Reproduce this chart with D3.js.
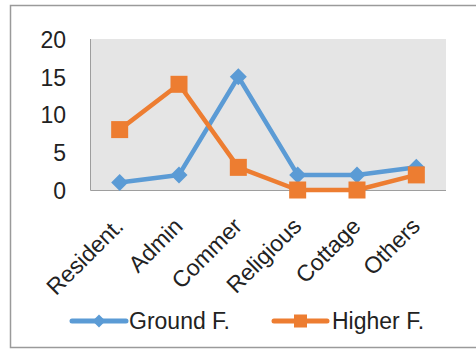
<!DOCTYPE html>
<html>
<head>
<meta charset="utf-8">
<script src="https://cdn.jsdelivr.net/npm/d3@7/dist/d3.min.js"></script>
<style>
  html, body { margin: 0; padding: 0; background: #fff; }
  svg { display: block; }
  text { font-family: "Liberation Sans", Arial, sans-serif; fill: #222; }
</style>
</head>
<body>
<svg id="chart" width="476" height="350"></svg>
<script>
// Floor-use counts per building category
const categories = ["Resident.", "Admin", "Commer", "Religious", "Cottage", "Others"];
const groundFloor = [1, 2, 15, 2, 2, 3];
const higherFloor = [8, 14, 3, 0, 0, 2];
const yTicks = [0, 5, 10, 15, 20];
const seriesNames = ["Ground F.", "Higher F."];

const series = [
  { name: seriesNames[0], values: groundFloor, color: "#5B9BD5", marker: "diamond" },
  { name: seriesNames[1], values: higherFloor, color: "#ED7D31", marker: "square" }
];

const svg = d3.select("#chart");
const plot = { left: 90, right: 446, top: 39, bottom: 190 };
const fontSize = 23;

// outer chart frame
svg.append("rect")
  .attr("x", 10.5).attr("y", 5.5)
  .attr("width", 480).attr("height", 342)
  .attr("fill", "#fff").attr("stroke", "#9a9a9a").attr("stroke-width", 1.5);

const x = d3.scalePoint().domain(categories).range([plot.left, plot.right]).padding(0.5);
const y = d3.scaleLinear().domain([0, 20]).range([plot.bottom, plot.top]);

// plot area background
svg.append("rect")
  .attr("x", plot.left).attr("y", plot.top)
  .attr("width", plot.right - plot.left).attr("height", plot.bottom - plot.top)
  .attr("fill", "#E5E5E5");

// left and bottom axis lines
svg.append("path")
  .attr("d", `M${plot.left + 0.5},${plot.top}V${plot.bottom + 0.5}H${plot.right}`)
  .attr("fill", "none").attr("stroke", "#9E9E9E").attr("stroke-width", 1);

// y-axis labels
const yAxis = d3.axisLeft(y).tickValues(yTicks).tickSize(0).tickPadding(0);
const yg = svg.append("g").attr("transform", `translate(66,0)`).call(yAxis);
yg.select(".domain").remove();
yg.selectAll("text")
  .attr("font-size", fontSize).attr("font-family", "Liberation Sans, Arial, sans-serif")
  .attr("fill", "#222").attr("dy", "0.36em");

// category labels, rotated
const xAxis = d3.axisBottom(x).tickSize(0).tickPadding(0);
const xg = svg.append("g").attr("transform", `translate(0,${plot.bottom})`).call(xAxis);
xg.select(".domain").remove();
xg.selectAll("text")
  .attr("font-size", fontSize).attr("font-family", "Liberation Sans, Arial, sans-serif")
  .attr("fill", "#222")
  .attr("text-anchor", "end")
  .attr("dy", null).attr("y", null)
  .attr("transform", "translate(-1,32) rotate(-45)")
  .attr("dominant-baseline", "central");

const diamond = s => `M0,${-s}L${s},0L0,${s}L${-s},0Z`;

function drawMarker(g, type, cx, cy, color, size) {
  if (type === "diamond") {
    g.append("path").attr("d", diamond(size))
      .attr("transform", `translate(${cx},${cy})`).attr("fill", color);
  } else {
    g.append("rect")
      .attr("x", cx - size).attr("y", cy - size)
      .attr("width", size * 2).attr("height", size * 2)
      .attr("fill", color);
  }
}

const line = d3.line().x((d, i) => x(categories[i])).y(d => y(d));

series.forEach(s => {
  const g = svg.append("g");
  g.append("path").datum(s.values)
    .attr("d", line)
    .attr("fill", "none").attr("stroke", s.color)
    .attr("stroke-width", 4.5).attr("stroke-linejoin", "round");
  s.values.forEach((v, i) => {
    drawMarker(g, s.marker, x(categories[i]), y(v), s.color, 8.5);
  });
});

// legend
const legendY = 321;
const legendItems = [
  { s: series[0], x0: 72, x1: 126, tx: 129 },
  { s: series[1], x0: 274, x1: 327, tx: 332 }
];
legendItems.forEach(it => {
  const g = svg.append("g");
  g.append("line")
    .attr("x1", it.x0).attr("x2", it.x1).attr("y1", legendY).attr("y2", legendY)
    .attr("stroke", it.s.color).attr("stroke-width", 5).attr("stroke-linecap", "round");
  drawMarker(g, it.s.marker, (it.x0 + it.x1) / 2, legendY, it.s.color, 6.5);
  g.append("text")
    .attr("x", it.tx).attr("y", legendY)
    .attr("dy", "0.36em")
    .attr("font-size", fontSize)
    .text(it.s.name);
});
</script>
</body>
</html>
